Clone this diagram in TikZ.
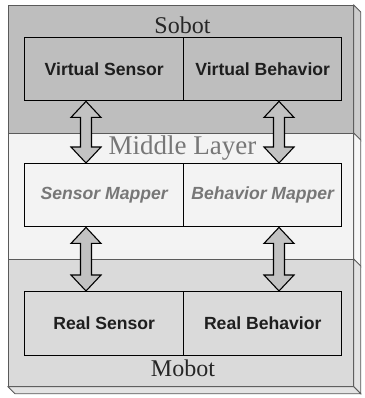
\documentclass[tikz,border=0pt]{standalone}
\usepackage{fontspec}
\setmainfont{Liberation Serif}
\setsansfont{Liberation Sans}
\usetikzlibrary{calc}
\definecolor{sobotc}{HTML}{BEBEBE}
\definecolor{sobots}{HTML}{CDCDCD}
\definecolor{midc}{HTML}{F3F3F3}
\definecolor{mids}{HTML}{F7F7F7}
\definecolor{mobc}{HTML}{DADADA}
\definecolor{mobs}{HTML}{E3E3E3}
\definecolor{edgec}{HTML}{5A5A5A}
\definecolor{arrc}{HTML}{C2C2C2}
\definecolor{midtxt}{HTML}{777777}
\definecolor{boxtxt}{HTML}{1E1E1E}
\newcommand\blockarrow[2]{%
  \draw[barrow] let \p1=(#1), \p2=(#2) in
    (\x1,\y1) -- (\x1+15pt,\y1-16pt) -- (\x1+5.5pt,\y1-16pt) -- (\x1+5.5pt,\y2+16pt)
    -- (\x1+15pt,\y2+16pt) -- (\x2,\y2) -- (\x1-15pt,\y2+16pt) -- (\x1-5.5pt,\y2+16pt)
    -- (\x1-5.5pt,\y1-16pt) -- (\x1-15pt,\y1-16pt) -- cycle;}
\begin{document}
\begin{tikzpicture}[x=1pt,y=-1pt,
  layer/.style={draw=edgec, line width=0.8pt, anchor=north west, inner sep=0pt, minimum width=345},
  side/.style={draw=edgec, line width=0.8pt},
  box/.style={draw=black, line width=1.4pt, anchor=north west, inner sep=0pt,
    font=\fontsize{17.6}{20}\selectfont\sffamily\bfseries, text=boxtxt},
  mbox/.style={box, text=midtxt, font=\fontsize{17.6}{20}\selectfont\sffamily\bfseries\itshape},
  title/.style={font=\fontsize{24}{28}\selectfont, text=black!85},
  barrow/.style={draw=black, fill=arrc, line width=1.1pt, line join=miter}]
\useasboundingbox (0,0) rectangle (364,398);
% Sobot layer
\node[layer, fill=sobotc, minimum height=128] (sob) at (8,5) {};
\filldraw[side, fill=sobots] (sob.north east) -- ++(7,7) -- ($(sob.south east)+(7,7)$) -- (sob.south east) -- cycle;
% Middle layer
\node[layer, fill=midc, minimum height=126] (mid) at (8,133) {};
\filldraw[side, fill=mids] (mid.north east) -- ++(7,7) -- ($(mid.south east)+(7,7)$) -- (mid.south east) -- cycle;
% Mobot layer
\node[layer, fill=mobc, minimum height=127] (mob) at (8,259) {};
\filldraw[side, fill=mobs] (mob.north east) -- ++(7,7) -- ($(mob.south east)+(7,7)$) -- (mob.south east) -- cycle;
\filldraw[side, fill=mobs] (mob.south west) -- ++(7,7) -- ($(mob.south east)+(7,7)$) -- (mob.south east) -- cycle;
% titles
\node[title] (tsob) at (182.5,25) {Sobot};
\node[title, text=midtxt, font=\fontsize{27}{30}\selectfont] (tmid) at (182.5,148) {Middle Layer};
\node[title] (tmob) at (183,368) {Mobot};
% boxes
\node[box, fill=sobotc, minimum width=159, minimum height=63] (vs) at (24,37) {Virtual Sensor};
\node[box, fill=sobotc, minimum width=158, minimum height=63] (vb) at (183,37) {Virtual Behavior};
\node[mbox, fill=midc, minimum width=159, minimum height=63] (sm) at (24,163) {Sensor Mapper};
\node[mbox, fill=midc, minimum width=158, minimum height=63] (bm) at (183,163) {Behavior Mapper};
\node[box, fill=mobc, minimum width=159, minimum height=64] (rs) at (24,291) {Real Sensor};
\node[box, fill=mobc, minimum width=158, minimum height=64] (rb) at (183,291) {Real Behavior};
% arrow end points
\coordinate (a1) at ($(vs.south west)+(62,0)$);
\coordinate (a2) at ($(sm.north west)+(62,0)$);
\coordinate (b1) at ($(vb.south west)+(96,0)$);
\coordinate (b2) at ($(bm.north west)+(96,0)$);
\coordinate (c1) at ($(sm.south west)+(62,0)$);
\coordinate (c2) at ($(rs.north west)+(62,0)$);
\coordinate (d1) at ($(bm.south west)+(96,0)$);
\coordinate (d2) at ($(rb.north west)+(96,0)$);
\blockarrow{a1}{a2}
\blockarrow{b1}{b2}
\blockarrow{c1}{c2}
\blockarrow{d1}{d2}
\end{tikzpicture}
\end{document}
